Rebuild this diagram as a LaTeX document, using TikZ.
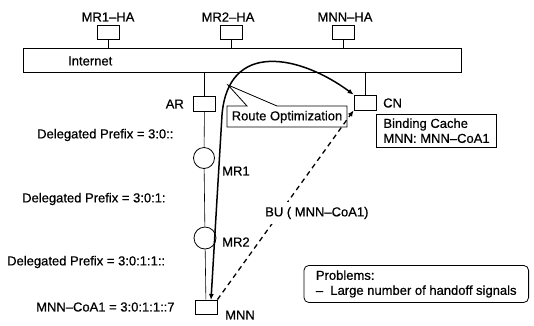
\documentclass[tikz,border=0pt]{standalone}
\usepackage{fontspec}
\setmainfont{Liberation Sans}[FakeBold=0.6]
\usetikzlibrary{arrows.meta,calc}
\tikzset{
  every node/.style={font=\fontsize{13}{15}\selectfont, inner sep=0pt},
  hbox/.style={draw, line width=0.8pt, minimum width=22pt, minimum height=14pt},
  rbox/.style={draw, line width=0.8pt, circle, minimum size=21pt},
  thin line/.style={line width=0.6pt},
  route/.style={line width=1.5pt, {Latex[length=6pt,width=5pt]}-{Latex[length=6pt,width=5pt]}},
  bu/.style={line width=1.3pt, dash pattern=on 5pt off 4pt, -{Latex[length=6pt,width=5pt]}},
  lbl/.style={anchor=west},
}
\begin{document}
\begin{tikzpicture}[x=1pt,y=-1pt]
\useasboundingbox (0,0) rectangle (534,325);
% home agents
\node (mr1hal) at (108,17) {MR1–HA};
\node (mr2hal) at (228,17) {MR2–HA};
\node (mnnhal) at (345,17) {MNN–HA};
\node[hbox] (mr1ha) at (108,32.5) {};
\node[hbox] (mr2ha) at (231.5,32.5) {};
\node[hbox] (mnnha) at (343,32.5) {};
% internet
\node[draw, line width=0.8pt, minimum width=438pt, minimum height=24pt] (inet) at (242,60) {};
\node[anchor=west] (inettxt) at (68,61) {Internet};
\draw[thin line] (mr1ha.south) -- (mr1ha.south |- inet.north);
\draw[thin line] (mr2ha.south) -- (mr2ha.south |- inet.north);
\draw[thin line] (mnnha.south) -- (mnnha.south |- inet.north);
% AR and CN
\node[hbox, minimum height=15pt] (ar) at (204.5,103.5) {};
\node[anchor=east] (arl) at (184,104) {AR};
\node[hbox, minimum height=15pt] (cn) at (365,102.5) {};
\node[anchor=west] (cnl) at (383,103) {CN};
\draw[thin line] (ar.north) -- (ar.north |- inet.south);
\draw[thin line] (cn.north) -- (cn.north |- inet.south);
% binding cache
\node[draw, line width=0.9pt, anchor=north west, align=left, inner xsep=7pt, inner ysep=4pt] (bc) at (376,114) {Binding Cache\\MNN: MNN–CoA1};
% mobile routers
\node[rbox] (mr1) at (204,158) {};
\node[rbox, minimum size=22pt] (mr2) at (205,238) {};
\node[hbox] (mnn) at (206,307) {};
\node[lbl] (mr1l) at (222,171) {MR1};
\node[lbl] (mr2l) at (222,242) {MR2};
\node[lbl] (mnnl) at (225,315) {MNN};
\draw[thin line] (ar) -- (mr1);
\draw[thin line] (mr1) -- (mr2);
\draw[thin line] (mr2) -- (mnn);
% prefixes
\node[lbl] (p1) at (37,135) {Delegated Prefix = 3:0::};
\node[lbl] (p2) at (22,199) {Delegated Prefix = 3:0:1:};
\node[lbl] (p3) at (7,262) {Delegated Prefix = 3:0:1:1::};
\node[lbl] (p4) at (36,307) {MNN–CoA1 = 3:0:1:1::7};
% route optimization callout
\draw[line width=0.8pt, fill=white] (227,106) -- (247,106) -- (228,85) -- (277,106) -- (347,106) -- (347,127) -- (227,127) -- cycle;
\node (ro) at (287,117) {Route Optimization};
% connectors
\coordinate (rs) at (211,300);
\coordinate (rb) at (222,115);
\draw[route] (rs) -- (rb) .. controls (228,40) and (300,55) .. (cn.north west);
\draw[bu] (mnn.north east) -- (cn.south west);
\node[lbl, fill=white, inner xsep=2pt, inner ysep=5pt] (bul) at (263,213) {BU ( MNN–CoA1)};
% problems
\node[draw, line width=0.8pt, rounded corners=5pt, anchor=north east, align=left, inner xsep=12pt, inner ysep=5pt] (prob) at (529,265) {Problems:\\– \ Large number of handoff signals};
\end{tikzpicture}
\end{document}
